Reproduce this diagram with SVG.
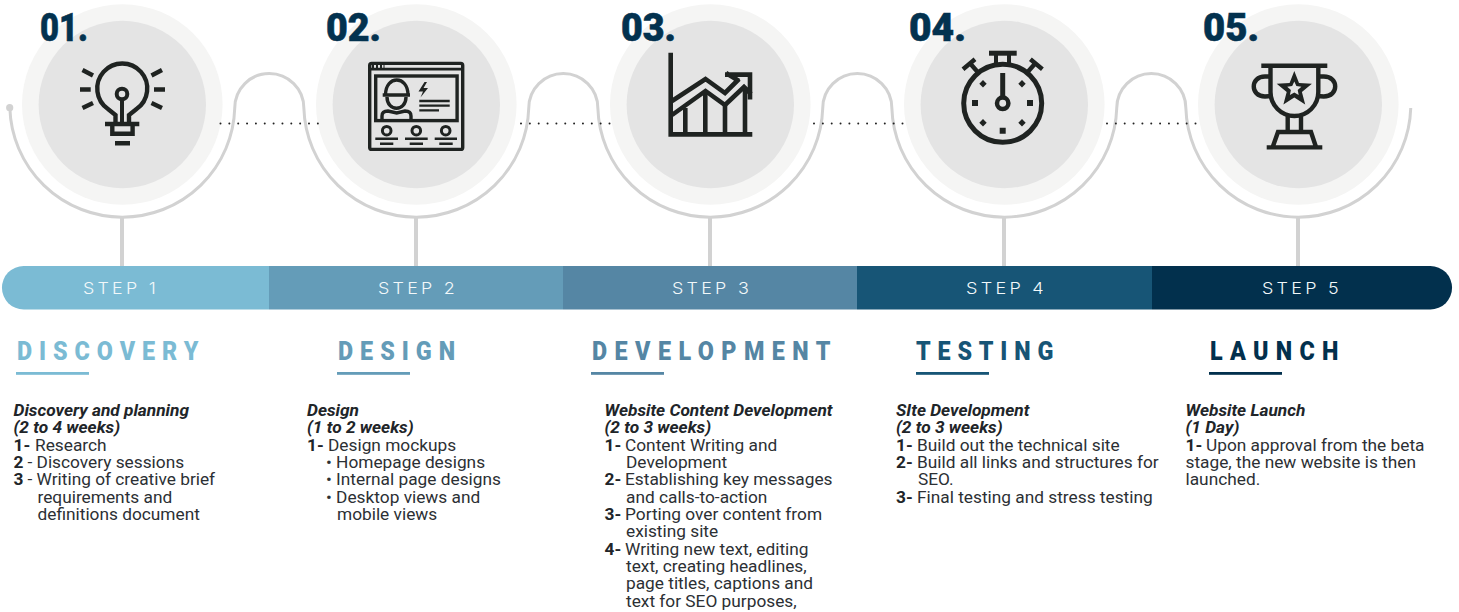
<svg xmlns="http://www.w3.org/2000/svg" width="1459" height="612" viewBox="0 0 1459 612">
<style>
.o{fill:#f5f5f4}.i{fill:#e4e4e4}
.ic{fill:none;stroke:#1f2321;stroke-width:4.4;stroke-linejoin:miter}
.f{fill:#1f2321}
.w{fill:none;stroke:#d2d2d2;stroke-width:3}
.v{fill:none;stroke:#d2d2d2;stroke-width:4}
.d{fill:none;stroke:#222;stroke-width:2;stroke-linecap:round;stroke-dasharray:0 8.85}
.n{font-family:Roboto,"Liberation Sans",sans-serif;font-weight:900;font-size:38px;fill:#03324f;stroke:#03324f;stroke-width:.6}
.s{font-family:Inter,"Liberation Sans",sans-serif;font-weight:300;font-size:16.5px;letter-spacing:3px;fill:#f2f8fa}
.t{font-family:Roboto,"Liberation Sans",sans-serif;font-weight:900;font-size:26.5px}
.b{font-family:Roboto,"Liberation Sans",sans-serif;font-size:17.3px;fill:#2c3034}
.b .h{font-weight:700;font-style:italic;fill:#212529}
.b .k{font-weight:700;fill:#212529}
</style>
<g id="connectors">
<path class="w" d="M9.85,108A112.5,112.5 0 0 0 234.75,108A34.55,34.55 0 0 1 303.85,108A112.5,112.5 0 0 0 528.75,108A34.55,34.55 0 0 1 597.85,108A112.5,112.5 0 0 0 822.75,108A34.55,34.55 0 0 1 891.85,108A112.5,112.5 0 0 0 1116.75,108A34.55,34.55 0 0 1 1185.85,108A112.5,112.5 0 0 0 1410.75,108"/>
<circle cx="9.7" cy="107.7" r="3.6" fill="#d2d2d2"/>
<path class="v" d="M122,217V266M416,217V266M710,217V266M1004,217V266M1298,217V266"/>
</g>
<g id="node-1">
<circle class="o" cx="122.3" cy="104.5" r="100.3"/><circle class="i" cx="122.3" cy="104.5" r="83.7"/>
<g class="ic">
<path d="M115.5,123V115L108,109A25,25 0 1 1 136.5,109L129,115V123"/>
<circle cx="122" cy="94" r="5.3" stroke-width="4"/><path d="M122,100V123" stroke-width="4"/>
<path d="M105,124H139.3M112.3,124V133.8H132.6V124M115,143.3H130"/>
<path d="M80,89.5H90.7M154,89.5H165M82.5,70L93,75.5M82.5,108L93,103M162,70L151.5,75.5M162,108L151.5,103"/>
</g>
<text class="n" x="40" y="41" textLength="48" lengthAdjust="spacingAndGlyphs">01.</text>
</g>
<g id="node-2">
<circle class="o" cx="416.3" cy="104.5" r="100.3"/><circle class="i" cx="416.3" cy="104.5" r="83.7"/>
<g class="ic" style="stroke-width:3.4">
<rect x="369.7" y="63.4" width="93" height="86" rx="2"/>
<path d="M369,69.2H463" style="stroke-width:2.8"/>
<rect x="375.7" y="76" width="81.4" height="44.6"/>
<path d="M385.5,95C385.5,75 408,75 408,95M382.7,95H410M387,97C387,112 406,112 406,97M382,121V116Q382,111 388,111L396.7,113L405,111Q411,111 411,116V121"/>
<path d="M419.3,101H449.7M419.3,105.7H449.7M419.3,110.3H439" style="stroke-width:2.3"/>
<circle cx="386.7" cy="130.7" r="4.3" style="stroke-width:3"/><circle cx="416.3" cy="130.7" r="4.3" style="stroke-width:3"/><circle cx="445.7" cy="130.7" r="4.3" style="stroke-width:3"/>
<path d="M375.3,138.7H398M380,143.7H393.3M405,138.7H427.7M409.7,143.7H423M434.7,138.7H457M439.3,143.7H452.7" style="stroke-width:2.6"/>
</g>
<path class="f" d="M424.5,82L418.5,91.5H423L420.5,97.5L428,88H423.5L427,82Z"/>
<path class="f" d="M372,65h2v3h-2zM376,65h2v3h-2zM380,65h2v3h-2zM383.5,65h1v3h-1z"/>
<text class="n" x="326" y="41" textLength="55" lengthAdjust="spacingAndGlyphs">02.</text>
</g>
<g id="node-3">
<circle class="o" cx="710.3" cy="104.5" r="100.3"/><circle class="i" cx="710.3" cy="104.5" r="83.7"/>
<g class="ic" style="stroke-width:4.6">
<path d="M670.7,52.7V134.4H752.3"/>
<path d="M672,101L705.5,79L725,93L739,79M725,74.6H750V99.5M726,73L739,81"/>
<path d="M672,115L705.5,91L725,105L744,87L751,94"/>
<path d="M685.3,108V132M705.3,91V132M725,105V132M745,87V132"/>
</g>
<text class="n" x="621" y="41" textLength="55" lengthAdjust="spacingAndGlyphs">03.</text>
</g>
<g id="node-4">
<circle class="o" cx="1004.3" cy="104.5" r="100.3"/><circle class="i" cx="1004.3" cy="104.5" r="83.7"/>
<g class="ic">
<circle cx="1002.7" cy="103.3" r="39" style="stroke-width:5"/>
<path d="M989,53.2H1016.7" style="stroke-width:5"/><path d="M996,55V64M1009,55V64" style="stroke-width:4"/>
<path d="M963,69.3L975,59.3M970,63.3L978.3,72.7M1042.4,69.3L1030.4,59.3M1035.4,63.3L1027,72.7"/>
<circle cx="1002.7" cy="103.3" r="5.7" style="stroke-width:4.5"/><path d="M1002.7,73V97" style="stroke-width:5"/>
</g>
<path class="f" d="M972,100h6v6h-6zM1027,100h6v6h-6zM999.7,127.7h6v6h-6zM983,80l3.7,3.7-3.7,3.7-3.7-3.7zM1022,80l3.7,3.7-3.7,3.7-3.7-3.7zM983,119l3.7,3.7-3.7,3.7-3.7-3.7zM1022,119l3.7,3.7-3.7,3.7-3.7-3.7z"/>
<text class="n" x="909" y="41" textLength="57" lengthAdjust="spacingAndGlyphs">04.</text>
</g>
<g id="node-5">
<circle class="o" cx="1298.3" cy="104.5" r="100.3"/><circle class="i" cx="1298.3" cy="104.5" r="83.7"/>
<g class="ic">
<path d="M1261.3,65.7H1327.3M1270.5,66V92A23.9,24 0 0 0 1318.3,92V66"/>
<path d="M1270,76.5H1265C1250,76.5 1250,96.5 1265,96.5L1272,96M1318.8,76.5H1323.8C1339,76.5 1339,96.5 1323.8,96.5L1316.8,96"/>
<path d="M1287.7,116V131M1301,116V131"/>
<path d="M1272.7,147L1278,132H1311L1316,147M1266.7,147.4H1322.3"/>
</g>
<polygon class="f" points="1294.3,71 1299,83 1311.9,83.8 1301.9,92 1305.2,104.5 1294.3,97.5 1283.4,104.5 1286.7,92 1276.7,83.8 1289.6,83"/>
<polygon class="i" points="1294.3,81.5 1296.4,86.1 1301.4,86.7 1297.7,90.1 1298.7,95.1 1294.3,92.6 1289.9,95.1 1290.9,90.1 1287.2,86.7 1292.2,86.1"/>
<text class="n" x="1203" y="41" textLength="56" lengthAdjust="spacingAndGlyphs">05.</text>
</g>
<g id="dots">
<path class="d" d="M220.5,123.5H319M521,123.5H612M814,123.5H905M1107,123.5H1198"/>
</g>
<g id="bar">
<path d="M269,266H23.7A21.7,21.7 0 0 0 23.7,309.5H269Z" fill="#7bbbd4"/>
<rect x="269" y="266" width="294" height="43.5" fill="#649cb8"/>
<rect x="563" y="266" width="294" height="43.5" fill="#5586a4"/>
<rect x="857" y="266" width="295" height="43.5" fill="#175576"/>
<path d="M1152,266H1430.3A21.7,21.7 0 0 1 1430.3,309.5H1152Z" fill="#02304d"/>
<text class="s" x="83" y="294" textLength="76" lengthAdjust="spacingAndGlyphs">STEP 1</text>
<text class="s" x="378" y="294" textLength="80" lengthAdjust="spacingAndGlyphs">STEP 2</text>
<text class="s" x="672" y="294" textLength="80" lengthAdjust="spacingAndGlyphs">STEP 3</text>
<text class="s" x="966" y="294" textLength="81" lengthAdjust="spacingAndGlyphs">STEP 4</text>
<text class="s" x="1262" y="294" textLength="80" lengthAdjust="spacingAndGlyphs">STEP 5</text>
</g>
<g id="col-1">
<text class="t" transform="translate(17,360) scale(.88,1)" fill="#7bbbd4" textLength="206">DISCOVERY</text>
<rect x="16" y="372" width="73" height="2.8" fill="#7bbbd4"/>
<text class="b"><tspan class="h" x="13.5" y="416">Discovery and planning</tspan><tspan class="h" x="13.5" y="433.3">(2 to 4 weeks)</tspan><tspan class="k" x="13.5" y="450.6">1-</tspan><tspan x="35" y="450.6">Research</tspan><tspan class="k" x="13.5" y="468">2</tspan><tspan x="27.5" y="468">- Discovery sessions</tspan><tspan class="k" x="13.5" y="485.3">3</tspan><tspan x="27.5" y="485.3">- Writing of creative brief</tspan><tspan x="37.5" y="502.6">requirements and</tspan><tspan x="37.5" y="520">definitions document</tspan></text>
</g>
<g id="col-2">
<text class="t" transform="translate(338,360) scale(.88,1)" fill="#649cb8" textLength="133">DESIGN</text>
<rect x="337" y="372" width="73" height="2.8" fill="#649cb8"/>
<text class="b"><tspan class="h" x="307" y="416">Design</tspan><tspan class="h" x="307" y="433.3">(1 to 2 weeks)</tspan><tspan class="k" x="307" y="450.6">1-</tspan><tspan x="328" y="450.6">Design mockups</tspan><tspan x="326" y="468">• Homepage designs</tspan><tspan x="326" y="485.3">• Internal page designs</tspan><tspan x="326" y="502.6">• Desktop views and</tspan><tspan x="337" y="520">mobile views</tspan></text>
</g>
<g id="col-3">
<text class="t" transform="translate(592,360) scale(.88,1)" fill="#5586a4" textLength="271">DEVELOPMENT</text>
<rect x="591" y="372" width="73" height="2.8" fill="#5586a4"/>
<text class="b"><tspan class="h" x="604.5" y="416">Website Content Development</tspan><tspan class="h" x="604.5" y="433.3">(2 to 3 weeks)</tspan><tspan class="k" x="604.5" y="450.6">1-</tspan><tspan x="625" y="450.6">Content Writing and</tspan><tspan x="626" y="468">Development</tspan><tspan class="k" x="604.5" y="485.3">2-</tspan><tspan x="625" y="485.3">Establishing key messages</tspan><tspan x="626" y="502.6">and calls-to-action</tspan><tspan class="k" x="604.5" y="520">3-</tspan><tspan x="625" y="520">Porting over content from</tspan><tspan x="626" y="537.3">existing site</tspan><tspan class="k" x="604.5" y="554.6">4-</tspan><tspan x="625" y="554.6">Writing new text, editing</tspan><tspan x="626" y="572">text, creating headlines,</tspan><tspan x="626" y="589.3">page titles, captions and</tspan><tspan x="626" y="606.6">text for SEO purposes,</tspan></text>
</g>
<g id="col-4">
<text class="t" transform="translate(916,360) scale(.88,1)" fill="#175576" textLength="156">TESTING</text>
<rect x="916" y="372" width="73" height="2.8" fill="#175576"/>
<text class="b"><tspan class="h" x="896" y="416">SIte Development</tspan><tspan class="h" x="896" y="433.3">(2 to 3 weeks)</tspan><tspan class="k" x="896" y="450.6">1-</tspan><tspan x="917" y="450.6">Build out the technical site</tspan><tspan class="k" x="896" y="468">2-</tspan><tspan x="917" y="468">Build all links and structures for</tspan><tspan x="918" y="485.3">SEO.</tspan><tspan class="k" x="896" y="502.6">3-</tspan><tspan x="917" y="502.6">Final testing and stress testing</tspan></text>
</g>
<g id="col-5">
<text class="t" transform="translate(1210,360) scale(.88,1)" fill="#02304d" textLength="146">LAUNCH</text>
<rect x="1209" y="372" width="73" height="2.8" fill="#02304d"/>
<text class="b"><tspan class="h" x="1185.5" y="416">Website Launch</tspan><tspan class="h" x="1185.5" y="433.3">(1 Day)</tspan><tspan class="k" x="1185.5" y="450.6">1-</tspan><tspan x="1206" y="450.6">Upon approval from the beta</tspan><tspan x="1185.5" y="468">stage, the new website is then</tspan><tspan x="1185.5" y="485.3">launched.</tspan></text>
</g>
</svg>
